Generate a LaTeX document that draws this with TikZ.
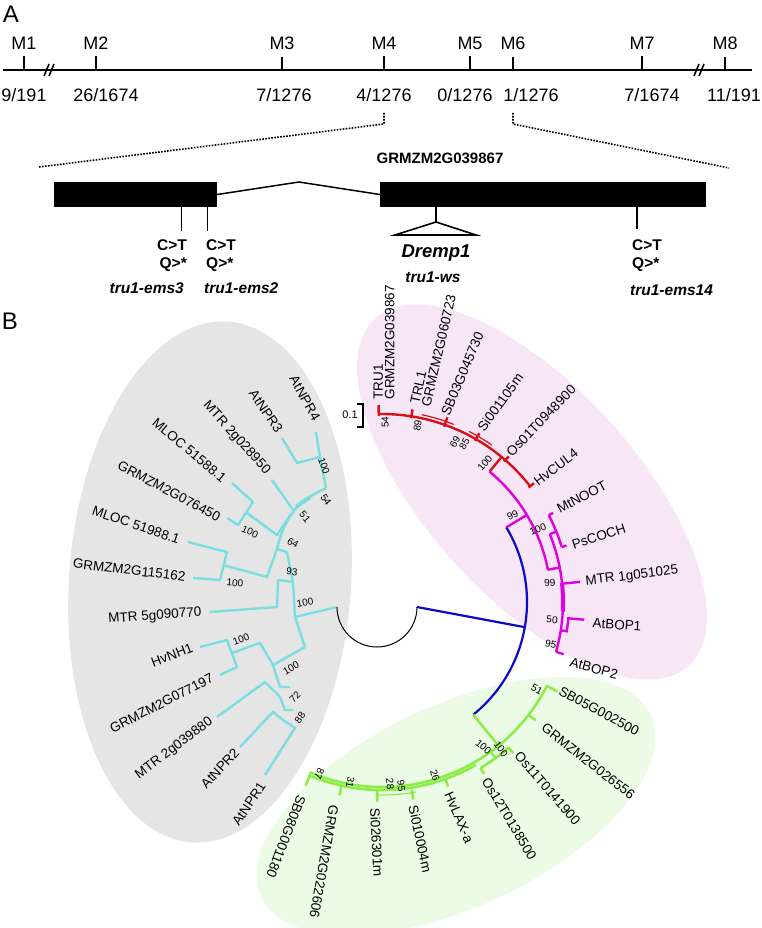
\documentclass[tikz,border=0pt]{standalone}
\usepackage{fontspec}
\setmainfont{Liberation Sans}
\usetikzlibrary{positioning}

\definecolor{nprcyan}{RGB}{122,222,224}
\definecolor{nprbg}{RGB}{229,229,229}
\definecolor{bopbg}{RGB}{246,230,246}
\definecolor{laxbg}{RGB}{235,251,229}
\definecolor{trured}{RGB}{214,18,24}
\definecolor{bopmag}{RGB}{224,0,224}
\definecolor{laxgreen}{RGB}{140,236,72}
\definecolor{rootblue}{RGB}{10,10,200}

\tikzset{
  panel/.style={font=\fontsize{24}{26}\selectfont, inner sep=0pt},
  mlab/.style={font=\fontsize{18}{20}\selectfont, inner sep=0pt},
  axis/.style={line width=2pt},
  mtick/.style={line width=1.6pt},
  zoomline/.style={line width=1.6pt, dash pattern=on 1.6pt off 1.4pt},
  exon/.style={fill=black, draw=none, inner sep=0pt},
  intron/.style={line width=1.5pt},
  site/.style={line width=1.6pt},
  gene/.style={font=\bfseries\fontsize{15}{17}\selectfont, inner sep=0pt},
  mut/.style={font=\bfseries\fontsize{15.5}{17}\selectfont, inner sep=0pt},
  allele/.style={font=\bfseries\itshape\fontsize{15.5}{17}\selectfont, inner sep=0pt},
  leaf/.style={font=\fontsize{13.5}{11.5}\selectfont, inner sep=0.5pt},
  boot/.style={font=\fontsize{10}{11}\selectfont, inner sep=0pt},
  nprbr/.style={draw=nprcyan, line width=2.4pt, line join=round},
  trubr/.style={draw=trured, line width=2.4pt},
  bopbr/.style={draw=bopmag, line width=2.4pt},
  laxbr/.style={draw=laxgreen, line width=2.6pt},
  rootbr/.style={draw=rootblue, line width=2.2pt},
}

\begin{document}
\begin{tikzpicture}[x=1pt,y=-1pt]
\useasboundingbox (0,0) rectangle (762,928);

% clade backgrounds
\fill[nprbg, rotate around={-4:(210,582)}] (210,582) ellipse[x radius=141, y radius=261];
\fill[bopbg, rotate around={-48:(532,492)}] (532,492) ellipse[x radius=234, y radius=105];
\fill[laxbg, rotate around={25:(456,806)}] (456,806) ellipse[x radius=215, y radius=101];

% ---- panel A: map
\node[panel] (pa) at (11,14) {A};
\coordinate (axl) at (3,70);
\coordinate (axr) at (752,70);
\draw[axis] (axl) -- (axr);
\foreach \bx in {44,694}
  \draw[mtick] (\bx,76) -- (\bx+5,64) (\bx+5,76) -- (\bx+10,64);
\foreach \i/\x in {1/24,2/96,3/282,4/384,5/470,6/513,7/642,8/725}{
  \node[mlab] (m\i) at (\x,43) {M\i};
  \draw[mtick] ([yshift=-7pt]m\i.south) -- (m\i.south |- axl);
}
\foreach \i/\x/\fr in {1/24/{9/191},2/106/{26/1674},3/284/{7/1276},4/384/{4/1276},
                       5/465/{0/1276},6/531/{1/1276},7/652/{7/1674},8/734/{11/191}}
  \node[mlab] (f\i) at (\x,95) {\fr};

% zoom to the gene
\coordinate (zl) at (39,167);
\coordinate (zr) at (729,168);
\draw[zoomline] (m4 |- 0,113) -- (m4 |- 0,124) -- (zl);
\draw[zoomline] (m6 |- 0,113) -- (m6 |- 0,124) -- (zr);

% gene model
\node[gene] (gname) at (440,158) {GRMZM2G039867};
\node[exon, minimum width=163pt, minimum height=25pt] (ex1) at (135.5,194.5) {};
\node[exon, minimum width=326pt, minimum height=25pt] (ex2) at (543,194.5) {};
\draw[intron] (ex1.east) -- (299,182) -- (ex2.west);

\coordinate (s3) at (181.5,207);
\coordinate (s2) at (207.5,207);
\coordinate (s14) at (637,207);
\coordinate (sws) at (436,207);
\draw[site] (s3) -- ++(0,24);
\draw[site] (s2) -- ++(0,24);
\draw[site] (s14) -- ++(0,22);
\draw[site] (sws) -- ++(0,15) coordinate (tip);
\draw[site] (tip) -- (395,235) -- (476,235) -- cycle;

\node[mut, anchor=east] (ct3) at (187,245) {C>T};
\node[mut, anchor=east] (qs3) at (187,265) {Q>*};
\node[allele, anchor=east] (al3) at (184,288) {tru1-ems3};
\node[mut, anchor=west] (ct2) at (206,245) {C>T};
\node[mut, anchor=west] (qs2) at (206,265) {Q>*};
\node[allele, anchor=west] (al2) at (204,288) {tru1-ems2};
\node[mut, anchor=west] (ct14) at (632,245) {C>T};
\node[mut, anchor=west] (qs14) at (632,265) {Q>*};
\node[allele, anchor=west] (al14) at (630,290) {tru1-ems14};
\node[allele, font=\bfseries\itshape\fontsize{18.5}{20}\selectfont] (drp) at (436,253) {Dremp1};
\node[allele] (ws) at (433,277) {tru1-ws};

% ---- panel B: tree
\node[panel] (pb) at (10,321) {B};

% scale bar
\draw[line width=1.8pt] (357,404) -- (363,404) -- (363,427) -- (357,427);
\node[boot, font=\fontsize{11}{12}\selectfont] (scl) at (350,415) {0.1};

% NPR clade
\draw[nprbr] (316,432) -- (320,457) -- (326,488);
\draw[nprbr] (282,438) -- (297,463) -- (320,457);
\draw[nprbr] (272,480) -- (293,510);
\draw[nprbr] plot[smooth] coordinates {(326,488) (311,496) (299,505) (289,518) (282,532) (277,549)};
\draw[nprcyan, line width=4pt] (296,507) -- (310,497);
\draw[nprbr] (232,483) -- (253,502) -- (238,525) -- (227,518);
\draw[nprbr] (247,513) -- (277,535) -- (291,514);
\draw[nprbr] (188,542) -- (227,552) -- (220,580) -- (193,578);
\draw[nprbr] (223,565) -- (267,577) -- (277,549);
\draw[nprbr] (277,549) -- (287,552) -- (293,582);
\draw[nprbr] (210,612) -- (277,607) -- (278,580) -- (293,582);
\draw[nprbr] (293,582) -- (295,617) -- (305,647);
\draw[nprbr] (295,617) -- (337,607);
\draw[nprbr] (305,647) -- (273,665);
\draw[nprbr] (200,647) -- (227,640) -- (237,667) -- (220,675);
\draw[nprbr] (232,653) -- (260,643) -- (273,665) -- (280,687) -- (290,687);
\draw[nprbr] (217,717) -- (265,682) -- (280,697) -- (285,710) -- (293,710);
\draw[nprbr] (240,747) -- (273,712) -- (283,720) -- (295,728) -- (265,775);

\foreach \px/\py/\rot/\txt [count=\k] in {
    317/420/-61/AtNPR4, 280/432/-56/AtNPR3, 268/473/-48/MTR 2g028950,
    225/480/-40/MLOC 51588.1, 220/518/-28/GRMZM2G076450, 180/540/-19/MLOC 51988.1,
    186/577/-7/GRMZM2G115162, 202/613/4/MTR 5g090770, 193/647/21/HvNH1,
    213/677/27/GRMZM2G077197, 212/720/37/MTR 2g039880, 237/750/47/AtNPR2,
    263/783/56/AtNPR1}
  \node[leaf, anchor=east, rotate=\rot] (npr\k) at (\px,\py) {\txt};

\foreach \px/\py/\rot/\val [count=\k] in {
    324/466/-70/100, 326/500/-55/54, 305/517/-50/51, 250/532/-25/100,
    293/543/-30/64, 235/583/-5/100, 292/572/-5/93, 305/603/10/100,
    241/639/20/100, 291/668/30/100, 295/697/45/72, 300/718/55/88}
  \node[boot, rotate=\rot] (nb\k) at (\px,\py) {\val};

% radial part around the root
\begin{scope}[shift={(382,602)}, yscale=-1]
  \draw[line width=1pt] (-45,-5) arc[start angle=180, end angle=360, radius=40];
  \draw[rootbr] (35,-5) -- (-10:145);
  \draw[rootbr] (31:145) arc[start angle=31, end angle=-51, radius=145];

  % TRU1 clade
  \draw[trubr] (50.5:169) -- (50.5:188);
  \draw[trubr] (91:188) arc[start angle=91, end angle=38, radius=188];
  \draw[trured, line width=1.2pt] (78:191.5) arc[start angle=78, end angle=68, radius=191.5];
  \draw[trured, line width=1.2pt] (63:191.5) arc[start angle=63, end angle=55, radius=191.5];
  \foreach \a/\r in {91/197, 81/195, 70.5/196, 60/195, 49/193, 38/193}
    \draw[trubr] (\a:186) -- (\a:\r);

  % BOP clade
  \draw[bopbr] (31:145) -- (31:169);
  \draw[bopbr] (50.5:169) arc[start angle=50.5, end angle=11, radius=169];
  \draw[bopbr] (11:169) -- (11:181);
  \draw[bopbr] (22:181) arc[start angle=22, end angle=-16, radius=181];
  \draw[bopmag, line width=4pt] (6:181) arc[start angle=6, end angle=-3, radius=181];
  \draw[bopbr] (22:181) -- (22:188);
  \draw[bopbr] (27.5:188) arc[start angle=27.5, end angle=17, radius=188];
  \draw[bopbr] (27.5:188) -- (27.5:193);
  \draw[bopbr] (17:188) -- (17:193);
  \draw[bopbr] (5.8:181) -- (5.8:199);
  \draw[bopbr] (-9:181) -- (-9:187) arc[start angle=-9, end angle=-5, radius=187] -- (-5:203);
  \draw[bopbr] (-16:181) -- (-16:189);

  % LAX clade
  \draw[laxbr] (-51:145) -- (-51:185);
  \draw[laxbr] (-27:185) arc[start angle=-27, end angle=-113, radius=185];
  \draw[laxbr] (-60:188) arc[start angle=-60, end angle=-113, radius=188];
  \draw[laxgreen, line width=1.2pt] (-80:193) arc[start angle=-80, end angle=-92, radius=193];
  \draw[laxbr] (-54:185) -- (-54:193);
  \draw[laxbr] (-49:193) arc[start angle=-49, end angle=-59.3, radius=193];
  \foreach \a/\ra/\rb in {-27/185/197, -37.6/185/194, -49/193/200, -59.3/193/200,
                          -70.3/187/196, -81/190/200, -91.4/187/200, -102.4/187/198, -112.6/187/199}
    \draw[laxbr] (\a:\ra) -- (\a:\rb);

  % leaf labels
  \node[leaf, anchor=west, rotate=90, align=left] (tru1) at (89.4:202) {TRU1\\GRMZM2G039867};
  \node[leaf, anchor=west, rotate=77, align=left] (trl1) at (79:200) {TRL1\\GRMZM2G060723};
  \foreach \a/\r/\rot/\txt [count=\k] in {
      71.4/197/67/SB03G045730, 60.3/198/54/Si001105m, 49.4/194/46/Os01T0948900,
      37.9/194/37/HvCUL4, 27.7/198/28/MtNOOT, 16.7/198/18/PsCOCH,
      5.6/204/7/MTR 1g051025, -5.7/211/-4/AtBOP1, -17.7/197/-15/AtBOP2,
      -26.4/198/-28/SB05G002500, -37.6/203/-38/GRMZM2G026556, -48.2/202.5/-49/Os11T0141900,
      -59.7/204/-59/Os12T0138500, -70.8/201/-67/HvLAX-a, -81.3/205/-78/Si010004m,
      -92/206/-87/Si026301m, -103.3/208.6/-100/GRMZM2G022606, -112.5/209/-111/SB08G001180}
    \node[leaf, anchor=west, rotate=\rot] (lf\k) at (\a:\r) {\txt};

  % support values
  \foreach \a/\r/\rot/\val [count=\k] in {
      89/180/90/54, 78.6/180/80/89, 65.5/176/62/69, 62.4/178/60/85, 53.5/173/50/100,
      33.6/157/25/99, 25/172/22/100, 6.5/169/5/99, -6/171/-5/50, -14/174/-12/95,
      -29.5/178/-30/51, -55/177/-40/100, -51/189/-55/100, -73/181/-70/26,
      -87.5/182/-85/28, -84/185/-85/95, -100/183/-100/31, -110/183/-110/87}
    \node[boot, rotate=\rot] (rb\k) at (\a:\r) {\val};
\end{scope}
\end{tikzpicture}
\end{document}
